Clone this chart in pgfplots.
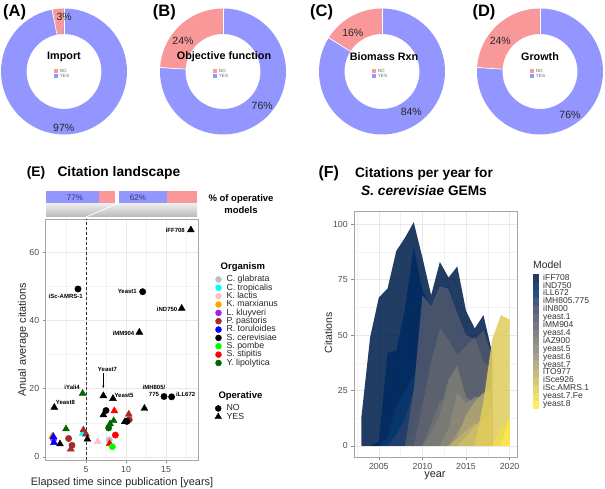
\documentclass[border=0pt]{standalone}
\usepackage{pgfplots}
\pgfplotsset{compat=1.18}
\usepackage{fontspec}
\setmainfont{Liberation Sans}
\usetikzlibrary{arrows.meta}

\definecolor{nocol}{RGB}{248,152,152}
\definecolor{yescol}{RGB}{148,150,255}
\definecolor{cglab}{RGB}{190,190,190}
\definecolor{ctrop}{RGB}{0,255,255}
\definecolor{klact}{RGB}{255,192,203}
\definecolor{kmarx}{RGB}{255,165,0}
\definecolor{lkluy}{RGB}{160,32,240}
\definecolor{ppast}{RGB}{165,42,42}
\definecolor{rtoru}{RGB}{0,0,255}
\definecolor{scere}{RGB}{0,0,0}
\definecolor{spomb}{RGB}{0,255,0}
\definecolor{sstip}{RGB}{255,0,0}
\definecolor{ylipo}{RGB}{0,100,0}
\definecolor{c1}{RGB}{0,32,77}
\definecolor{c2}{RGB}{0,43,96}
\definecolor{c3}{RGB}{7,54,110}
\definecolor{c4}{RGB}{39,65,108}
\definecolor{c5}{RGB}{65,77,108}
\definecolor{c6}{RGB}{81,88,109}
\definecolor{c7}{RGB}{96,100,111}
\definecolor{c8}{RGB}{110,112,115}
\definecolor{c9}{RGB}{125,124,118}
\definecolor{c10}{RGB}{140,136,121}
\definecolor{c11}{RGB}{156,149,119}
\definecolor{c12}{RGB}{172,162,115}
\definecolor{c13}{RGB}{189,175,110}
\definecolor{c14}{RGB}{206,189,103}
\definecolor{c15}{RGB}{224,204,93}
\definecolor{c16}{RGB}{240,219,82}
\definecolor{c17}{RGB}{255,234,70}

\newcommand{\fs}[1]{\fontsize{#1}{#1}\selectfont}

\pgfplotsset{
  /pgf/number format/assume math mode=true,
  donut/.style={scale only axis, width=126pt, height=126pt, xmin=-1, xmax=1, ymin=-1, ymax=1,
    hide axis, clip=false, anchor=center,
    legend image code/.code={\fill[##1] (0pt,-1.9pt) rectangle (4pt,1.9pt);},
    legend cell align=left,
    legend style={at={(0.4214,0.5254)}, anchor=north west, draw=none, fill=none, inner sep=0pt,
      row sep=0pt, font=\fs{4.6}, text=black!60,
      nodes={inner sep=0.2pt, text height=3.6pt, text depth=1.2pt},
      /tikz/every odd column/.append style={column sep=1.4pt}}},
  ring/.style={line width=25.5pt, samples=61, variable=\t, forget plot},
  panel/.style={scale only axis, anchor=south west, grid=both,
    major grid style={black!9, line width=0.5pt},
    minor grid style={black!5, line width=0.3pt},
    axis line style={black!35, line width=0.6pt},
    tick align=outside, tick pos=left, major tick length=2.75pt, minor tick length=0pt,
    tick style={black!45, line width=0.5pt},
    ticklabel style={font=\fs{8.8}, text=black!70},
    legend cell align=left},
  cir/.style={only marks, mark=*, mark size=3.2pt, forget plot},
  tri/.style={only marks, mark=triangle*, mark size=4pt, forget plot},
  ar/.style={draw=none, fill opacity=0.87},
}

\begin{document}
\begin{tikzpicture}
\path[use as bounding box] (0pt,0pt) rectangle (605pt,489pt);

% ---------------- Donut A ----------------
\begin{axis}[donut, at={(64pt,417.5pt)}]
\addlegendimage{fill=nocol, draw=none}\addlegendentry{NO}
\addlegendimage{fill=yescol, draw=none}\addlegendentry{YES}
\addplot[ring, color=nocol, domain=90:100.8] ({0.7976*cos(\t)},{0.7976*sin(\t)});
\addplot[ring, color=yescol, domain=100.8:450] ({0.7976*cos(\t)},{0.7976*sin(\t)});
\draw[white, line width=0.7pt] (axis cs:0,0.59) -- (axis cs:0,1.005);
\draw[white, line width=0.7pt] (axis cs:{0.59*cos(100.8)},{0.59*sin(100.8)}) -- (axis cs:{1.005*cos(100.8)},{1.005*sin(100.8)});
\end{axis}
% ---------------- Donut B ----------------
\begin{axis}[donut, at={(223pt,417.5pt)}]
\addlegendimage{fill=nocol, draw=none}\addlegendentry{NO}
\addlegendimage{fill=yescol, draw=none}\addlegendentry{YES}
\addplot[ring, color=nocol, domain=90:176.4] ({0.7976*cos(\t)},{0.7976*sin(\t)});
\addplot[ring, color=yescol, domain=176.4:450] ({0.7976*cos(\t)},{0.7976*sin(\t)});
\draw[white, line width=0.7pt] (axis cs:0,0.59) -- (axis cs:0,1.005);
\draw[white, line width=0.7pt] (axis cs:{0.59*cos(176.4)},{0.59*sin(176.4)}) -- (axis cs:{1.005*cos(176.4)},{1.005*sin(176.4)});
\end{axis}
% ---------------- Donut C ----------------
\begin{axis}[donut, at={(382pt,417.5pt)}]
\addlegendimage{fill=nocol, draw=none}\addlegendentry{NO}
\addlegendimage{fill=yescol, draw=none}\addlegendentry{YES}
\addplot[ring, color=nocol, domain=90:147.6] ({0.7976*cos(\t)},{0.7976*sin(\t)});
\addplot[ring, color=yescol, domain=147.6:450] ({0.7976*cos(\t)},{0.7976*sin(\t)});
\draw[white, line width=0.7pt] (axis cs:0,0.59) -- (axis cs:0,1.005);
\draw[white, line width=0.7pt] (axis cs:{0.59*cos(147.6)},{0.59*sin(147.6)}) -- (axis cs:{1.005*cos(147.6)},{1.005*sin(147.6)});
\end{axis}
% ---------------- Donut D ----------------
\begin{axis}[donut, at={(540pt,417.5pt)}]
\addlegendimage{fill=nocol, draw=none}\addlegendentry{NO}
\addlegendimage{fill=yescol, draw=none}\addlegendentry{YES}
\addplot[ring, color=nocol, domain=90:176.4] ({0.7976*cos(\t)},{0.7976*sin(\t)});
\addplot[ring, color=yescol, domain=176.4:450] ({0.7976*cos(\t)},{0.7976*sin(\t)});
\draw[white, line width=0.7pt] (axis cs:0,0.59) -- (axis cs:0,1.005);
\draw[white, line width=0.7pt] (axis cs:{0.59*cos(176.4)},{0.59*sin(176.4)}) -- (axis cs:{1.005*cos(176.4)},{1.005*sin(176.4)});
\end{axis}

% donut texts
\begin{scope}[every node/.style={font=\bfseries\fs{16.5}, anchor=west, inner sep=0pt}]
\node at (3pt,477pt) {(A)};
\node at (152.7pt,477pt) {(B)};
\node at (310pt,477pt) {(C)};
\node at (472.3pt,477pt) {(D)};
\end{scope}
\begin{scope}[every node/.style={font=\bfseries\fs{10.8}, inner sep=0pt}]
\node at (64pt,432pt) {Import};
\node at (224pt,432pt) {Objective function};
\node at (384pt,432pt) {Biomass Rxn};
\node at (540pt,432pt) {Growth};
\end{scope}
\begin{scope}[every node/.style={font=\fs{10.5}, text=black!85, inner sep=0pt}]
\node at (64.2pt,472.3pt) {3\%};
\node at (63.7pt,361.3pt) {97\%};
\node at (183pt,448pt) {24\%};
\node at (262.2pt,383.3pt) {76\%};
\node at (352.8pt,455.7pt) {16\%};
\node at (411.3pt,377.3pt) {84\%};
\node at (500.3pt,448.3pt) {24\%};
\node at (570pt,374pt) {76\%};
\end{scope}

% ---------------- Panel E ----------------
\node[anchor=west, font=\bfseries\fs{13.8}, inner sep=0pt] at (26.7pt,316pt) {(E)};
\node[anchor=west, font=\bfseries\fs{13.8}, inner sep=0pt] at (57.3pt,316pt) {Citation landscape};

\shade[top color=black!6, bottom color=black!28] (46pt,272pt) rectangle (197pt,286pt);
\draw[white, line width=0.8pt] (86pt,272pt) -- (119pt,286pt);

\begin{axis}[scale only axis, width=69pt, height=12pt, at={(46pt,286pt)}, anchor=south west,
  xmin=0, xmax=100, ymin=-0.5, ymax=0.5, hide axis, xbar stacked, bar width=12pt]
\addplot[fill=yescol, draw=none] coordinates {(77,0)};
\addplot[fill=nocol, draw=none] coordinates {(23,0)};
\end{axis}
\begin{axis}[scale only axis, width=78pt, height=12pt, at={(119pt,286pt)}, anchor=south west,
  xmin=0, xmax=100, ymin=-0.5, ymax=0.5, hide axis, xbar stacked, bar width=12pt]
\addplot[fill=yescol, draw=none] coordinates {(62,0)};
\addplot[fill=nocol, draw=none] coordinates {(38,0)};
\end{axis}
\node[font=\fs{8}, text={rgb,255:red,50;green,50;blue,110}] at (75pt,291.5pt) {77\%};
\node[font=\fs{8}, text={rgb,255:red,50;green,50;blue,110}] at (138pt,291.5pt) {62\%};
\node[align=center, font=\bfseries\fontsize{9.5}{12}\selectfont] at (241pt,285pt) {\% of operative\\models};

\begin{axis}[panel, width=152.3pt, height=241pt, at={(45.5pt,29pt)},
  xmin=-0.06, xmax=18.97, ymin=-0.9, ymax=69.7,
  xtick={5,10,15}, ytick={0,20,40,60},
  minor xtick={2.5,7.5,12.5,17.5}, minor ytick={10,30,50,70},
  legend image code/.code={\draw[#1] plot coordinates {(0pt,0pt)};},
  legend style={at={(1.1149,0.7672)}, anchor=north west, draw=none, fill=none, inner sep=0pt,
    row sep=0pt, font=\fs{8.8}, text=black!85,
    nodes={inner sep=0.5pt, text height=6pt, text depth=1.35pt},
    /tikz/every odd column/.append style={column sep=4.5pt}}]
\addlegendimage{only marks, mark=*, mark size=3pt, color=cglab}\addlegendentry{C. glabrata}
\addlegendimage{only marks, mark=*, mark size=3pt, color=ctrop}\addlegendentry{C. tropicalis}
\addlegendimage{only marks, mark=*, mark size=3pt, color=klact}\addlegendentry{K. lactis}
\addlegendimage{only marks, mark=*, mark size=3pt, color=kmarx}\addlegendentry{K. marxianus}
\addlegendimage{only marks, mark=*, mark size=3pt, color=lkluy}\addlegendentry{L. kluyveri}
\addlegendimage{only marks, mark=*, mark size=3pt, color=ppast}\addlegendentry{P. pastoris}
\addlegendimage{only marks, mark=*, mark size=3pt, color=rtoru}\addlegendentry{R. toruloides}
\addlegendimage{only marks, mark=*, mark size=3pt, color=scere}\addlegendentry{S. cerevisiae}
\addlegendimage{only marks, mark=*, mark size=3pt, color=spomb}\addlegendentry{S. pombe}
\addlegendimage{only marks, mark=*, mark size=3pt, color=sstip}\addlegendentry{S. stipitis}
\addlegendimage{only marks, mark=*, mark size=3pt, color=ylipo}\addlegendentry{Y. lipolytica}

\addplot[forget plot, black!80, line width=0.5pt, dash pattern=on 3pt off 2pt] coordinates {(5,-0.9) (5,69.7)};

\addplot[tri, color=kmarx] coordinates {(0.78,6.1)};
\addplot[cir, color=lkluy] coordinates {(0.95,5.2)};
\addplot[tri, color=rtoru] coordinates {(0.92,5.95) (1.0,4.2)};
\addplot[tri, color=klact] coordinates {(6.46,4.5)};
\addplot[tri, color=ctrop] coordinates {(4.58,6.9)};
\addplot[cir, color=cglab] coordinates {(7.9,5.0)};
\addplot[tri, color=ppast] coordinates {(4.67,7.9) (5.0,6.7) (3.1,2.3) (10.35,12.5)};
\addplot[cir, color=ppast] coordinates {(2.83,5.4) (3.25,3.4) (10.4,10.9)};
\addplot[tri, color=sstip] coordinates {(8.54,13.5) (7.95,3.9)};
\addplot[cir, color=sstip] coordinates {(8.67,6.4)};
\addplot[cir, color=spomb] coordinates {(8.3,3.0)};
\addplot[tri, color=ylipo] coordinates {(4.58,18.6) (2.5,8.2) (8.46,10.6) (8.0,9.7)};
\addplot[cir, color=ylipo] coordinates {(7.83,8.5)};
\addplot[tri, color=scere] coordinates {(18.1,66.5) (16.96,43.5) (11.67,36.5) (7.17,17.9) (8.37,17.1) (1.04,14.5) (12.3,14.2) (1.75,3.8) (5.17,5.2) (7.17,12.3) (9.85,10.3)};
\addplot[cir, color=scere] coordinates {(4.0,49.2) (12.08,48.4) (14.75,17.7) (15.7,17.6) (7.5,13.6) (10.1,10.4)};
\end{axis}

% Operative legend (separate hidden axis)
\begin{axis}[scale only axis, hide axis, width=152.3pt, height=241pt, at={(45.5pt,29pt)}, anchor=south west,
  xmin=0, xmax=1, ymin=0, ymax=1, legend cell align=left,
  legend image code/.code={\draw[#1] plot coordinates {(0pt,0pt)};},
  legend style={at={(1.1113,0.2320)}, anchor=north west, draw=none, fill=none, inner sep=0pt,
    row sep=0pt, font=\fs{8.8}, text=black!85,
    nodes={inner sep=0.5pt, text height=6pt, text depth=1.35pt},
    /tikz/every odd column/.append style={column sep=4.5pt}}]
\addplot[draw=none, forget plot] coordinates {(0.5,0.5)};
\addlegendimage{only marks, mark=*, mark size=3pt, color=black}\addlegendentry{NO}
\addlegendimage{only marks, mark=triangle*, mark size=3.8pt, color=black}\addlegendentry{YES}
\end{axis}

\node[anchor=west, font=\bfseries\fs{9.5}, inner sep=0pt] at (220.5pt,222.3pt) {Organism};
\node[anchor=west, font=\bfseries\fs{9.5}, inner sep=0pt] at (218.3pt,93pt) {Operative};

% point labels
\begin{scope}[every node/.style={font=\bfseries\fs{6}, inner sep=0pt}]
\node[anchor=east] at (185pt,259pt) {iFF708};
\node at (65.7pt,193pt) {iSc-AMRS-1};
\node[anchor=east] at (137pt,197.3pt) {Yeast1};
\node[anchor=east] at (177.5pt,180pt) {iND750};
\node[anchor=east] at (134.5pt,155.7pt) {iMM904};
\node at (107.5pt,120pt) {Yeast7};
\node[anchor=east] at (80pt,101.7pt) {iYali4};
\node[anchor=west] at (114.3pt,93.3pt) {Yeast5};
\node[anchor=west] at (55.7pt,86.3pt) {Yeast8};
\node[align=center, font=\bfseries\fontsize{6}{7.7}\selectfont] at (154pt,98pt) {iMH805/\\775};
\node[anchor=west] at (176pt,94.3pt) {iLL672};
\end{scope}
\draw[-{Stealth[length=2.5pt,width=2.2pt]}, line width=0.4pt] (103.3pt,115.5pt) -- (103.3pt,101pt);

\node[rotate=90, font=\fs{10.9}, text=black!85] at (23pt,149pt) {Anual average citations};
\node[font=\fs{10.9}, text=black!85] at (122pt,6.5pt) {Elapsed time since publication [years]};

% ---------------- Panel F ----------------
\node[anchor=west, font=\bfseries\fs{16}, inner sep=0pt] at (318.3pt,315.7pt) {(F)};
\node[align=center, font=\bfseries\fontsize{13.7}{18}\selectfont] at (424pt,307pt) {Citations per year for\\\textit{S. cerevisiae} GEMs};

\begin{axis}[panel, width=163pt, height=246pt, at={(354pt,32pt)},
  xmin=2002.15, xmax=2020.85, ymin=-5.05, ymax=106.05,
  xtick={2005,2010,2015,2020}, ytick={0,25,50,75,100},
  minor xtick={2002.5,2007.5,2012.5,2017.5}, minor ytick={12.5,37.5,62.5,87.5},
  /pgf/number format/1000 sep={},
  legend image code/.code={\fill[#1] (0pt,-3.95pt) rectangle (5.5pt,3.95pt);},
  legend style={at={(1.0982,0.7437)}, anchor=north west, draw=none, fill=none, inner sep=0pt,
    row sep=0pt, font=\fs{8.5}, text=black!80,
    nodes={inner sep=0pt, text height=5.9pt, text depth=2pt},
    /tikz/every odd column/.append style={column sep=4.5pt}}]
\addplot[ar, fill=c1] coordinates {(2003,13) (2004,49) (2005,67) (2006,71) (2007,88) (2008,94) (2009,101) (2010,85) (2011,68) (2012,83) (2013,76) (2014,81) (2015,61) (2016,53) (2017,59) (2018,42)} \closedcycle;
\addlegendentry{iFF708}
\addplot[ar, fill=c2] coordinates {(2004,0) (2005,2) (2006,42) (2007,43) (2008,62) (2009,90) (2010,70) (2011,62) (2012,70) (2013,72) (2014,60) (2015,50) (2016,47) (2017,50) (2018,38)} \closedcycle;
\addlegendentry{iND750}
\addplot[ar, fill=c3] coordinates {(2005,0) (2006,4) (2007,18) (2008,25) (2009,32) (2010,28) (2011,25) (2012,22) (2013,20) (2014,18) (2015,15) (2016,14) (2017,12) (2018,10)} \closedcycle;
\addlegendentry{iLL672}
\addplot[ar, fill=c4] coordinates {(2006,0) (2007,5) (2008,12) (2009,25) (2010,30) (2011,27) (2012,25) (2013,22) (2014,20) (2015,18) (2016,16) (2017,15) (2018,12)} \closedcycle;
\addlegendentry{iMH805.775}
\addplot[ar, fill=c5] coordinates {(2008,0) (2009,8) (2010,22) (2011,20) (2012,18) (2013,15) (2014,14) (2015,12) (2016,10) (2017,9) (2018,7)} \closedcycle;
\addlegendentry{iIN800}
\addplot[ar, fill=c6] coordinates {(2008,0) (2009,25) (2010,68) (2011,63) (2012,72) (2013,71) (2014,60) (2015,50) (2016,48) (2017,52) (2018,40)} \closedcycle;
\addlegendentry{yeast.1}
\addplot[ar, fill=c7] coordinates {(2009,0) (2010,18) (2011,38) (2012,53) (2013,48) (2014,41) (2015,45) (2016,49) (2017,38) (2018,35)} \closedcycle;
\addlegendentry{iMM904}
\addplot[ar, fill=c8] coordinates {(2010,0) (2011,10) (2012,20) (2013,22) (2014,19) (2015,17) (2016,15) (2017,14) (2018,12)} \closedcycle;
\addlegendentry{yeast.4}
\addplot[ar, fill=c9] coordinates {(2010,0) (2011,6) (2012,14) (2013,30) (2014,36) (2015,22) (2016,19) (2017,22) (2018,18)} \closedcycle;
\addlegendentry{iAZ900}
\addplot[ar, fill=c10] coordinates {(2012,0) (2013,8) (2014,24) (2015,19) (2016,22) (2017,22) (2018,20)} \closedcycle;
\addlegendentry{yeast.5}
\addplot[ar, fill=c11] coordinates {(2013,0) (2014,6) (2015,12) (2016,14) (2017,12) (2018,10)} \closedcycle;
\addlegendentry{yeast.6}
\addplot[ar, fill=c12] coordinates {(2013,0) (2014,4) (2015,14) (2016,20) (2017,24) (2018,25)} \closedcycle;
\addlegendentry{yeast.7}
\addplot[ar, fill=c13] coordinates {(2013,0) (2014,3) (2015,7) (2016,10) (2017,9) (2018,8)} \closedcycle;
\addlegendentry{iTO977}
\addplot[ar, fill=c14] coordinates {(2014,0) (2015,4) (2016,9) (2017,12) (2018,14)} \closedcycle;
\addlegendentry{iSce926}
\addplot[ar, fill=c15] coordinates {(2016,0) (2017,20) (2018,48) (2019,59) (2020,57)} \closedcycle;
\addlegendentry{iSc.AMRS.1}
\addplot[ar, fill=c16] coordinates {(2018,0) (2019,8) (2020,12)} \closedcycle;
\addlegendentry{yeast.7.Fe}
\addplot[ar, fill=c17] coordinates {(2019,0) (2020,13)} \closedcycle;
\addlegendentry{yeast.8}
\end{axis}

\node[anchor=west, font=\fs{10.4}, text=black!85, inner sep=0pt] at (533pt,224pt) {Model};
\node[rotate=90, font=\fs{10.5}, text=black!85] at (328.3pt,156pt) {Citations};
\node[font=\fs{10.9}, text=black!85] at (435pt,13pt) {year};

\end{tikzpicture}
\end{document}
